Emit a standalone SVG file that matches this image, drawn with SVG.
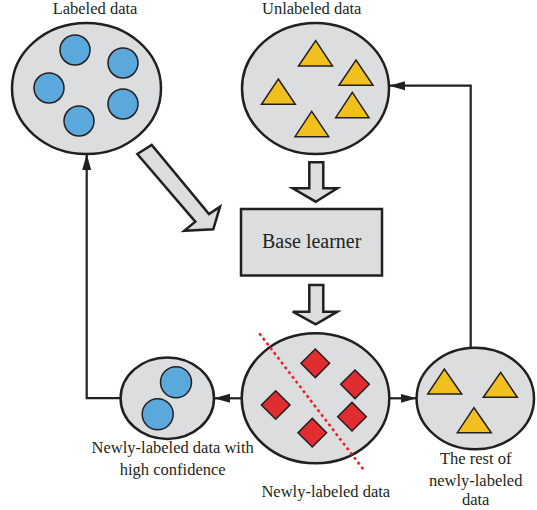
<svg xmlns="http://www.w3.org/2000/svg" width="537" height="510" viewBox="0 0 537 510">
<style>
.pool{fill:#dcdddf;stroke:#231f20;stroke-width:2.5}
.blue{fill:#5ba8dd;stroke:#231f20;stroke-width:1.5}
.tri{fill:#f2c01e;stroke:#231f20;stroke-width:1.5;stroke-linejoin:miter}
.dia{fill:#e12d2f;stroke:#231f20;stroke-width:1.5}
.big{fill:#dcdddf;stroke:#231f20;stroke-width:2.5;stroke-linejoin:miter}
.conn{fill:none;stroke:#231f20;stroke-width:2.2}
.lbl{font-family:"Liberation Serif","Times New Roman",serif;font-size:16.5px;fill:#231f20;text-anchor:middle}
.sep{fill:none;stroke:#e8232a;stroke-width:2.5;stroke-dasharray:3 3}
</style>
<defs>
<marker id="ah" markerUnits="userSpaceOnUse" markerWidth="16" markerHeight="10" refX="16" refY="5" orient="auto">
<path d="M0,0.5 L16,5 L0,9.5 Z" fill="#231f20"/>
</marker>
</defs>

<g id="labeled-data">
<ellipse class="pool" cx="86.5" cy="88.5" rx="74.5" ry="65.5"/>
<circle class="blue" cx="75" cy="50" r="15"/>
<circle class="blue" cx="123" cy="63" r="15"/>
<circle class="blue" cx="49" cy="88" r="15"/>
<circle class="blue" cx="123" cy="104" r="15"/>
<circle class="blue" cx="79" cy="121" r="15"/>
<text class="lbl" x="95" y="14">Labeled data</text>
</g>

<g id="unlabeled-data">
<ellipse class="pool" cx="315.5" cy="88.5" rx="73.5" ry="65.5"/>
<polygon class="tri" points="315.7,40.7 332.5,66 298.5,66"/>
<polygon class="tri" points="356,60 373,85.3 339,85.3"/>
<polygon class="tri" points="278.3,79 295.3,104.3 261.5,104.3"/>
<polygon class="tri" points="352.3,92.3 369,117.7 335.7,117.7"/>
<polygon class="tri" points="311.7,111.3 328.7,136.7 295,136.7"/>
<text class="lbl" x="311.7" y="14">Unlabeled data</text>
</g>

<g id="base-learner">
<rect x="241" y="209" width="141" height="66.5" fill="#dcdddf" stroke="#231f20" stroke-width="2.5"/>
<text class="lbl" x="311.7" y="247.5" style="font-size:20px">Base learner</text>
</g>

<g id="newly-labeled-data">
<ellipse class="pool" cx="315.5" cy="398.3" rx="73.8" ry="65"/>
<polygon class="dia" points="315.3,349 329.6,363.3 315.3,377.6 301,363.3"/>
<polygon class="dia" points="355,370 369.3,384.3 355,398.6 340.7,384.3"/>
<polygon class="dia" points="275.7,390.7 290,405 275.7,419.3 261.4,405"/>
<polygon class="dia" points="352,402.4 366.3,416.7 352,431 337.7,416.7"/>
<polygon class="dia" points="312.3,418.4 326.6,432.7 312.3,447 298,432.7"/>
<line class="sep" x1="259.3" y1="333.3" x2="363.3" y2="469.3"/>
<text class="lbl" x="325.8" y="496.5">Newly-labeled data</text>
</g>

<g id="high-confidence">
<ellipse class="pool" cx="167.3" cy="398.2" rx="46.7" ry="40.8"/>
<circle class="blue" cx="176" cy="382.3" r="15.5"/>
<circle class="blue" cx="157.7" cy="414.3" r="15.5"/>
<text class="lbl" x="172.7" y="453.3">Newly-labeled data with</text>
<text class="lbl" x="172.7" y="475">high confidence</text>
</g>

<g id="rest-newly-labeled">
<ellipse class="pool" cx="475.3" cy="398.5" rx="58.7" ry="50.8"/>
<polygon class="tri" points="444.3,369 461.7,394 427.7,394"/>
<polygon class="tri" points="500.7,372.3 517.3,397.3 483.3,397.3"/>
<polygon class="tri" points="474,407.7 491.3,432.7 457.3,432.7"/>
<text class="lbl" x="475.7" y="464.3">The rest of</text>
<text class="lbl" x="475.7" y="485.5">newly-labeled</text>
<text class="lbl" x="475.7" y="505">data</text>
</g>

<g id="connectors">
<polygon class="big" points="137.3,154 195.3,221.7 184.3,230.7 213.3,229.3 220,206.7 209,214 151.7,145"/>
<polygon class="big" points="309.3,162.3 323.3,162.3 323.3,188.3 337.3,188.3 315.7,201.7 292.7,188.3 309.3,188.3"/>
<polygon class="big" points="309.3,285 323.3,285 323.3,311.7 337.3,311.7 315.7,324.3 292.7,311.7 309.3,311.7"/>
<line class="conn" x1="241.7" y1="398.3" x2="214" y2="398.3" marker-end="url(#ah)"/>
<polyline class="conn" points="120.7,398.2 86.7,398.2 86.7,154" marker-end="url(#ah)"/>
<line class="conn" x1="389.3" y1="398.3" x2="416.6" y2="398.3" marker-end="url(#ah)"/>
<polyline class="conn" points="470.7,347.7 470.7,85.7 389,85.7" marker-end="url(#ah)"/>
</g>
</svg>
